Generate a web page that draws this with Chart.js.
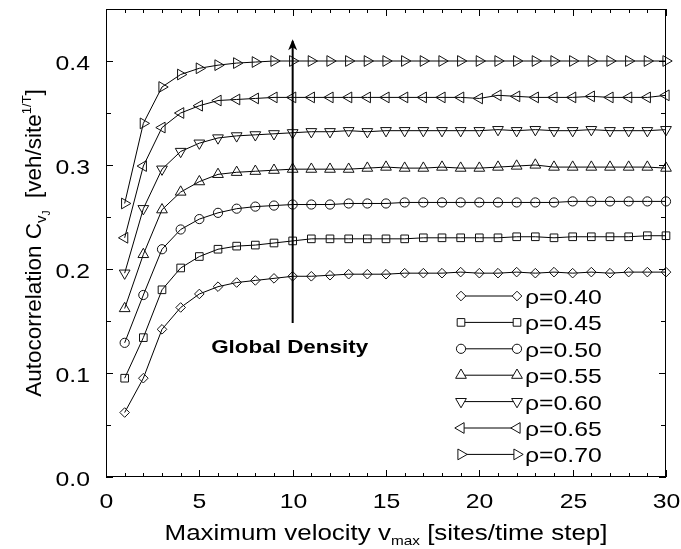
<!DOCTYPE html>
<html>
<head>
<meta charset="utf-8">
<script src="https://cdn.jsdelivr.net/npm/chart.js"></script>
<style>
  html, body { margin: 0; padding: 0; background: #fff; }
  #wrap { width: 681px; height: 549px; }
</style>
</head>
<body>
<div id="wrap"><canvas id="acChart" width="681" height="549"></canvas></div>
<script>
// maximum velocity (sites / time step)
const vmax = [1,2,3,4,5,6,7,8,9,10,11,12,13,14,15,16,17,18,19,20,21,22,23,24,25,26,27,28,29,30];

// autocorrelation C_vJ for each global density
const rho040 = [0.062,0.095,0.142,0.163,0.176,0.183,0.187,0.189,0.191,0.193,0.193,0.194,0.195,0.195,0.195,0.196,0.196,0.196,0.197,0.196,0.196,0.197,0.196,0.197,0.196,0.197,0.196,0.197,0.197,0.197];
const rho045 = [0.095,0.134,0.180,0.201,0.212,0.219,0.222,0.223,0.225,0.227,0.229,0.229,0.229,0.229,0.229,0.229,0.230,0.230,0.230,0.230,0.230,0.231,0.231,0.230,0.231,0.231,0.231,0.231,0.232,0.232];
const rho050 = [0.129,0.175,0.219,0.238,0.248,0.254,0.258,0.260,0.261,0.262,0.262,0.262,0.263,0.263,0.263,0.264,0.264,0.264,0.264,0.264,0.264,0.264,0.264,0.264,0.265,0.265,0.265,0.265,0.265,0.265];
const rho055 = [0.162,0.214,0.257,0.274,0.284,0.291,0.293,0.294,0.295,0.296,0.296,0.296,0.296,0.297,0.298,0.297,0.297,0.298,0.297,0.297,0.298,0.299,0.300,0.298,0.298,0.298,0.298,0.298,0.298,0.297];
const rho060 = [0.196,0.258,0.296,0.313,0.321,0.326,0.328,0.329,0.330,0.331,0.332,0.332,0.333,0.332,0.333,0.333,0.333,0.333,0.333,0.333,0.334,0.333,0.334,0.333,0.333,0.334,0.333,0.333,0.333,0.334];
const rho065 = [0.230,0.299,0.336,0.350,0.357,0.362,0.363,0.364,0.365,0.365,0.365,0.365,0.365,0.365,0.365,0.365,0.365,0.365,0.365,0.364,0.367,0.366,0.365,0.365,0.365,0.366,0.365,0.365,0.365,0.367];
const rho070 = [0.263,0.340,0.375,0.387,0.393,0.396,0.398,0.399,0.400,0.400,0.400,0.400,0.400,0.400,0.400,0.400,0.400,0.400,0.400,0.400,0.400,0.400,0.400,0.400,0.400,0.400,0.400,0.400,0.400,0.400];

const seriesLabels = ['ρ=0.40','ρ=0.45','ρ=0.50','ρ=0.55','ρ=0.60','ρ=0.65','ρ=0.70'];
const seriesValues = [rho040, rho045, rho050, rho055, rho060, rho065, rho070];

// arrow "Global Density" at vmax = 10
const arrowX = 10;
const arrowFrom = 0.148;
const arrowTo = 0.421;

const FONT = '"Liberation Sans", Arial, Helvetica, sans-serif';
const SX = 1.18; // horizontal stretch of the lettering

// marker per density: [pointStyle, rotation, radius]
const markers = [
  ['rectRot', 0, 4.8],
  ['rect', 0, 5.4],
  ['circle', 0, 4.6],
  ['triangle', 0, 6.2],
  ['triangle', 180, 6.2],
  ['triangle', 270, 6.2],
  ['triangle', 90, 6.2]
];

const datasets = seriesValues.map((vals, i) => ({
  label: seriesLabels[i],
  data: vmax.map((x, j) => ({x: x, y: vals[j]})),
  borderColor: '#000',
  borderWidth: 1,
  backgroundColor: 'rgba(0,0,0,0)',
  pointStyle: markers[i][0],
  pointRotation: markers[i][1],
  pointRadius: markers[i][2],
  pointBorderColor: '#111',
  pointBackgroundColor: 'rgba(0,0,0,0)',
  pointBorderWidth: 1,
  tension: 0,
  fill: false,
  clip: false
}));

function sText(ctx, text, x, y, align, font) {
  ctx.font = font;
  const w = ctx.measureText(text).width * SX;
  let x0 = x;
  if (align === 'center') x0 = x - w / 2;
  else if (align === 'right') x0 = x - w;
  ctx.save();
  ctx.textAlign = 'left';
  ctx.translate(x0, y);
  ctx.scale(SX, 1);
  ctx.fillText(text, 0, 0);
  ctx.restore();
}

// draws a string made of pieces with sub/superscript offsets
function drawRich(ctx, parts, x, y, sx) {
  let total = 0;
  parts.forEach(p => {
    ctx.font = p.size + 'px ' + FONT;
    p.width = ctx.measureText(p.t).width;
    total += p.width;
  });
  ctx.save();
  ctx.translate(x - total * sx / 2, y);
  ctx.scale(sx, 1);
  ctx.textAlign = 'left';
  let cx = 0;
  parts.forEach(p => {
    ctx.font = p.size + 'px ' + FONT;
    ctx.fillText(p.t, cx, p.dy || 0);
    cx += p.width;
  });
  ctx.restore();
}

const frameAndTicks = {
  id: 'frameAndTicks',
  afterDatasetsDraw(chart) {
    const {ctx, chartArea: {left, top, right, bottom}, scales: {x, y}} = chart;
    ctx.save();
    ctx.strokeStyle = '#000';
    ctx.fillStyle = '#000';
    ctx.lineWidth = 1;
    ctx.strokeRect(left + 0.5, top + 0.5, right - left - 1, bottom - top - 1);

    const tickFont = '21px ' + FONT;
    ctx.textBaseline = 'alphabetic';
    ctx.beginPath();
    x.ticks.forEach(t => {
      const px = Math.round(x.getPixelForValue(t.value)) + 0.5;
      const major = t.value % 5 === 0;
      const len = major ? 7 : 4;
      ctx.moveTo(px, bottom); ctx.lineTo(px, bottom - len);
      ctx.moveTo(px, top); ctx.lineTo(px, top + len);
      if (major) sText(ctx, String(t.value), px, bottom + 31, 'center', tickFont);
    });
    y.ticks.forEach(t => {
      const py = Math.round(y.getPixelForValue(t.value)) + 0.5;
      const major = Math.abs(t.value * 10 - Math.round(t.value * 10)) < 1e-6;
      const len = major ? 7 : 5;
      ctx.moveTo(left, py); ctx.lineTo(left + len, py);
      ctx.moveTo(right, py); ctx.lineTo(right - len, py);
      if (major) sText(ctx, t.value.toFixed(1), left - 16, py + 8, 'right', tickFont);
    });
    ctx.stroke();

    // arrow
    const ax = x.getPixelForValue(arrowX);
    const y0 = y.getPixelForValue(arrowFrom);
    const y1 = y.getPixelForValue(arrowTo);
    ctx.lineWidth = 2;
    ctx.beginPath();
    ctx.moveTo(ax, y0); ctx.lineTo(ax, y1 + 2);
    ctx.stroke();
    ctx.beginPath();
    ctx.moveTo(ax, y1);
    ctx.lineTo(ax - 4.5, y1 + 11);
    ctx.lineTo(ax, y1 + 8);
    ctx.lineTo(ax + 4.5, y1 + 11);
    ctx.closePath();
    ctx.fill();

    sText(ctx, 'Global Density', ax - 3, y0 + 30, 'center', 'bold 19px ' + FONT);

    // legend: line with a marker on both ends
    const lx0 = 461, lx1 = 517, ly0 = 296, step = 26.4;
    chart.data.datasets.forEach((ds, i) => {
      const ly = ly0 + i * step;
      ctx.strokeStyle = '#000';
      ctx.lineWidth = 1;
      ctx.beginPath();
      ctx.moveTo(lx0, ly); ctx.lineTo(lx1, ly);
      ctx.stroke();
      const opt = {pointStyle: ds.pointStyle, rotation: ds.pointRotation, radius: ds.pointRadius, borderWidth: 1};
      ctx.strokeStyle = '#111';
      ctx.fillStyle = '#fff';
      Chart.helpers.drawPoint(ctx, opt, lx0, ly);
      Chart.helpers.drawPoint(ctx, opt, lx1, ly);
      ctx.fillStyle = '#000';
      sText(ctx, ds.label, 525, ly + 8, 'left', '21px ' + FONT);
    });

    // axis titles
    drawRich(ctx, [
      {t: 'Maximum velocity v', size: 22},
      {t: 'max', size: 13, dy: 5},
      {t: ' [sites/time step]', size: 22}
    ], (left + right) / 2, 540, SX);

    ctx.save();
    ctx.translate(41, (top + bottom) / 2);
    ctx.rotate(-Math.PI / 2);
    drawRich(ctx, [
      {t: 'Autocorrelation C', size: 22.5},
      {t: 'v', size: 15, dy: 5},
      {t: 'J', size: 10, dy: 9},
      {t: '  [veh/site', size: 22.5},
      {t: '1/T', size: 13, dy: -10},
      {t: ']', size: 22.5}
    ], 0, 0, 1);
    ctx.restore();

    ctx.restore();
  }
};

const noPad = s => { s.paddingTop = 0; s.paddingBottom = 0; s.paddingLeft = 0; s.paddingRight = 0; };

new Chart(document.getElementById('acChart').getContext('2d'), {
  type: 'line',
  data: { datasets: datasets },
  options: {
    responsive: false,
    animation: false,
    layout: { padding: { top: 9, right: 15, left: 0, bottom: 0 } },
    plugins: {
      legend: { display: false },
      tooltip: { enabled: false },
      title: { display: false }
    },
    scales: {
      x: {
        type: 'linear',
        min: 0,
        max: 30,
        afterFit(s) { s.height = 72; noPad(s); },
        grid: { display: false, drawTicks: false },
        border: { display: false },
        ticks: { stepSize: 1, autoSkip: false, display: false }
      },
      y: {
        min: 0,
        max: 0.45,
        afterFit(s) { s.width = 106; noPad(s); },
        grid: { display: false, drawTicks: false },
        border: { display: false },
        ticks: { stepSize: 0.05, autoSkip: false, display: false }
      }
    }
  },
  plugins: [frameAndTicks]
});
</script>
</body>
</html>
